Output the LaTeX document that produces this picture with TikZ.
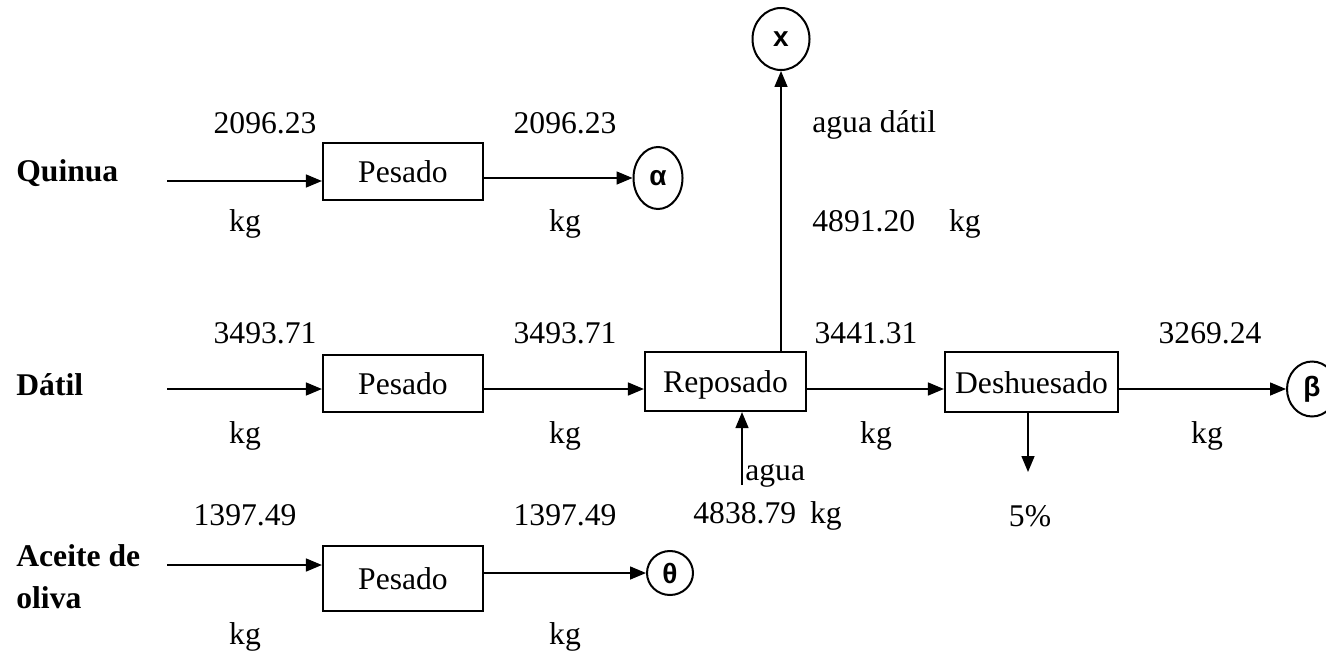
\documentclass[tikz,border=0pt]{standalone}
\usepackage{fontspec}
\setmainfont{Liberation Serif}
\newfontfamily\circfont{Liberation Sans}
\usetikzlibrary{arrows.meta,shapes.geometric}
\begin{document}
\begin{tikzpicture}[x=0.5pt,y=-0.5pt,
  every node/.style={font=\fontsize{15.8}{19}\selectfont, inner sep=0pt},
  proc/.style={draw, line width=1.1pt, rectangle, text height=11pt, text depth=0pt},
  endpt/.style={draw, line width=1pt, ellipse, font=\circfont\bfseries\fontsize{14}{16}\selectfont},
  lbl/.style={font=\bfseries\fontsize{15.8}{21}\selectfont, anchor=west, align=left},
  arr/.style={line width=0.75pt, -{Triangle[length=8pt,width=6.5pt]}}]
\useasboundingbox (0,0) rectangle (1326,658);

% process boxes
\node[proc, minimum width=80pt, minimum height=28.5pt] (p1) at (403,171.5) {Pesado};
\node[proc, minimum width=80pt, minimum height=28.5pt] (p2) at (403,383.5) {Pesado};
\node[proc, minimum width=80.5pt, minimum height=29.5pt] (rep) at (725.5,381.5) {Reposado};
\node[proc, minimum width=86.5pt, minimum height=30pt] (des) at (1031.5,382) {Deshuesado};
\node[proc, minimum width=80pt, minimum height=32.5pt] (p3) at (403,578.5) {Pesado};

% connector circles
\node[endpt, minimum width=24.5pt, minimum height=31pt] (alpha) at (658,178) {α};
\node[endpt, minimum width=28.5pt, minimum height=31pt] (xc) at (781,39) {x};
\node[endpt, minimum width=25pt, minimum height=27.5pt] (beta) at (1312,389) {β};
\node[endpt, minimum width=23pt, minimum height=22pt] (theta) at (670,573) {θ};

% raw material names
\node[lbl] (lq) at (16,173) {Quinua};
\node[lbl] (ld) at (16,385) {Dátil};
\node[lbl] (la) at (16,577) {Aceite de\\oliva};

% free ends of the flows
\coordinate (q0) at (167,181);
\coordinate (d0) at (167,389);
\coordinate (a0) at (167,565);
\coordinate (ag) at (742,485);
\coordinate (dd) at (1028,472);

% flows
\draw[arr] (q0) -- (q0 -| p1.west);
\draw[arr] (p1.east |- alpha.west) -- (alpha.west);
\draw[arr] (d0) -- (d0 -| p2.west);
\draw[arr] (d0 -| p2.east) -- (d0 -| rep.west);
\draw[arr] (d0 -| rep.east) -- (d0 -| des.west);
\draw[arr] (d0 -| des.east) -- (beta.west);
\draw[arr] (xc.south |- rep.north) -- (xc.south);
\draw[arr] (ag) -- (ag |- rep.south);
\draw[arr] (dd |- des.south) -- (dd);
\draw[arr] (a0) -- (a0 -| p3.west);
\draw[arr] (p3.east |- theta.west) -- (theta.west);

% quantities
\node (t1) at (265,123) {2096.23};
\node (t2) at (245,224) {kg};
\node (t3) at (565,123) {2096.23};
\node (t4) at (565,224) {kg};
\node[anchor=west] (t5) at (812,125) {agua dátil};
\node[anchor=west] (t6) at (812,224) {4891.20\hspace{17pt}kg};
\node (t7) at (265,333) {3493.71};
\node (t8) at (245,436) {kg};
\node (t9) at (565,333) {3493.71};
\node (t10) at (565,436) {kg};
\node (t11) at (866,333) {3441.31};
\node (t12) at (876,436) {kg};
\node (t13) at (1210,333) {3269.24};
\node (t14) at (1207,436) {kg};
\node[anchor=west] (t15) at (745,476) {agua};
\node[anchor=west] (t16) at (693,516) {4838.79\hspace{7pt}kg};
\node (t17) at (1030,516) {5\%};
\node (t18) at (245,515) {1397.49};
\node (t19) at (245,637) {kg};
\node (t20) at (565,515) {1397.49};
\node (t21) at (565,637) {kg};
\end{tikzpicture}
\end{document}
